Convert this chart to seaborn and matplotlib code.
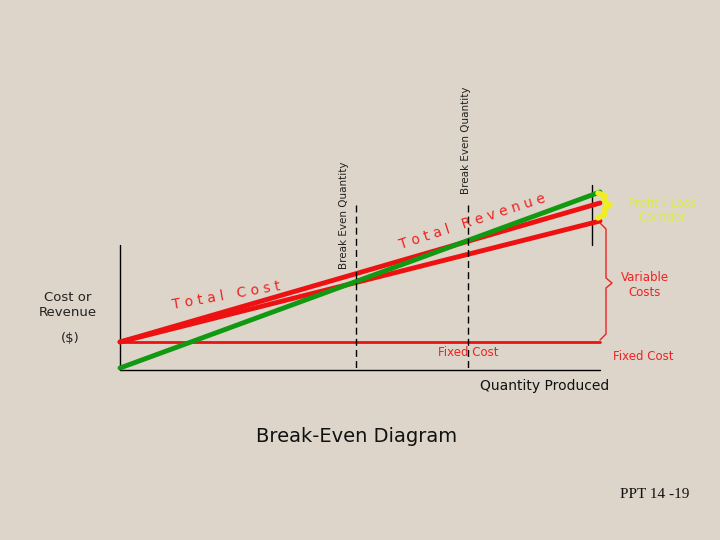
import matplotlib
matplotlib.use("Agg")
import matplotlib.pyplot as plt
import seaborn as sns
import pandas as pd

# data in slide pixel coordinates (x: quantity, y: cost/revenue; y down)
quantity = [120, 600]
fixed_cost = [342, 342]
total_cost = [342, 221]
total_cost_upper = [342, 203]
total_revenue = [368, 192]
break_even_q = [356, 468]

sns.set_theme(style="white")
fig = plt.figure(figsize=(7.2, 5.4), dpi=100)
fig.patch.set_facecolor("#ddd5c9")
ax = fig.add_axes([0, 0, 1, 1])
ax.set_facecolor("#ddd5c9")
ax.set_xlim(0, 720); ax.set_ylim(540, 0); ax.axis("off")

ax.plot([120, 120], [245, 370], color="black", lw=1)
ax.plot([120, 600], [370, 370], color="black", lw=1)
ax.plot([592, 592], [185, 245], color="black", lw=1)

df = pd.DataFrame({"q": quantity * 4,
                   "v": fixed_cost + total_cost + total_cost_upper + total_revenue,
                   "s": ["fc"] * 2 + ["tc"] * 2 + ["tc2"] * 2 + ["tr"] * 2})
sns.lineplot(data=df, x="q", y="v", hue="s", ax=ax, legend=False, sort=False,
             palette={"fc": "#ee1111", "tc": "#ee1111", "tc2": "#ee1111", "tr": "#119911"},
             linewidth=3.5)
ax.lines[-4].set_linewidth(2)

for x in break_even_q:
    ax.plot([x, x], [205, 370], color="black", lw=1, ls=(0, (5, 3)))

ax.text(344, 215, "Break Even Quantity", rotation=90, ha="center", va="center", fontsize=7.5, color="#222222")
ax.text(466, 140, "Break Even Quantity", rotation=90, ha="center", va="center", fontsize=7.5, color="#222222")

ax.text(68, 305, "Cost or\nRevenue", ha="center", va="center", fontsize=9.5, color="#222222")
ax.text(70, 338, "($)", ha="center", va="center", fontsize=9.5, color="#222222")
ax.text(226, 296, "T o t a l   C o s t", rotation=10, ha="center", va="center", fontsize=10, color="#ee2222")
ax.text(472, 222, "T o t a l   R e v e n u e", rotation=18, ha="center", va="center", fontsize=10, color="#ee2222")
ax.text(468, 352, "Fixed Cost", ha="center", va="center", fontsize=8.5, color="#ee2222")
ax.text(643, 357, "Fixed Cost", ha="center", va="center", fontsize=8.5, color="#ee2222")
ax.text(645, 285, "Variable\nCosts", ha="center", va="center", fontsize=8.5, color="#ee2222")
ax.text(662, 210, "Profit / Loss\nCorridor", ha="center", va="center", fontsize=8.5, color="#dde855")
ax.text(545, 386, "Quantity Produced", ha="center", va="center", fontsize=10, color="#111111")
ax.text(357, 437, "Break-Even Diagram", ha="center", va="center", fontsize=14, color="#111111")
ax.text(655, 494, "PPT 14 -19", ha="center", va="center", fontsize=11, family="Liberation Serif", color="#111111")

ax.plot([600, 606, 606, 612, 606, 606, 600], [223, 229, 278, 283, 288, 334, 340], color="#ee2222", lw=1)
ax.plot([598, 605, 605, 610, 605, 605, 598], [193, 196, 202, 205, 208, 214, 218], color="#eeee22", lw=4)

fig.savefig("out.png", dpi=100, facecolor=fig.get_facecolor())
